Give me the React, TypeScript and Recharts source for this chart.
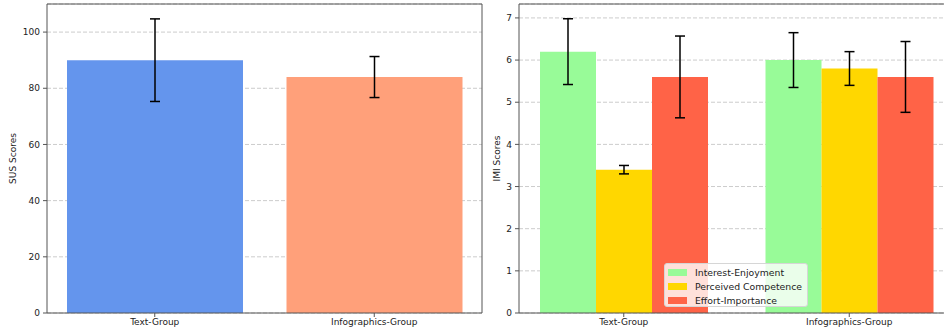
import React from "react";
import {
  Bar,
  BarChart,
  CartesianGrid,
  Cell,
  ErrorBar,
  Legend,
  XAxis,
  YAxis
} from "recharts";

const groups = ["Text-Group", "Infographics-Group"];

const susMeans = [90, 84];
const susErrors = [14.7, 7.3];
const susColors = ["#6495ED", "#FFA07A"];
const susTicks = [0, 20, 40, 60, 80, 100];

const imiSeries = ["Interest-Enjoyment", "Perceived Competence", "Effort-Importance"];
const imiColors = ["#98FB98", "#FFD700", "#FF6347"];
const interestMeans = [6.2, 6.0];
const interestErrors = [0.78, 0.65];
const competenceMeans = [3.4, 5.8];
const competenceErrors = [0.1, 0.4];
const effortMeans = [5.6, 5.6];
const effortErrors = [0.97, 0.84];
const imiTicks = [0, 1, 2, 3, 4, 5, 6, 7];

const font = "DejaVu Sans";
const spine = "#555";
const tickStyle = { fontSize: 9, fill: "#222", fontFamily: font };

const susData = groups.map((g, i) => ({ group: g, mean: susMeans[i], err: susErrors[i] }));

const imiData = groups.map((g, i) => ({
  group: g,
  ie: interestMeans[i],
  ieErr: interestErrors[i],
  pc: competenceMeans[i],
  pcErr: competenceErrors[i],
  ei: effortMeans[i],
  eiErr: effortErrors[i],
}));

const imiKeys = [
  ["ie", "ieErr"],
  ["pc", "pcErr"],
  ["ei", "eiErr"],
];

const yLabel = (text: string, x: number) => (props: any) => {
  const vb = props.viewBox;
  const cy = vb.y + vb.height / 2;
  return (
    <text
      x={x}
      y={cy}
      transform={`rotate(-90, ${x}, ${cy})`}
      textAnchor="middle"
      dominantBaseline="central"
      fontSize={9}
      fontFamily={font}
      fill="#222"
    >
      {text}
    </text>
  );
};

const ImiLegend = () => (
  <div
    style={{
      width: 144,
      height: 44,
      boxSizing: "border-box",
      background: "rgba(255,255,255,0.8)",
      border: "1px solid #d6d6d6",
      borderRadius: 3,
      padding: "1px 0 0 3px",
      fontFamily: font,
      fontSize: 9.3,
      color: "#222",
    }}
  >
    {imiSeries.map((s, i) => (
      <div key={s} style={{ display: "flex", alignItems: "center", height: 14 }}>
        <span style={{ width: 19, height: 7, background: imiColors[i], marginRight: 8 }} />
        <span>{s}</span>
      </div>
    ))}
  </div>
);

// top and right spines, matplotlib style box
const frameAxes = () => [
  <XAxis key="top" xAxisId="top" dataKey="group" orientation="top" height={1} tick={false} tickLine={false} stroke={spine} />,
  <YAxis key="right" yAxisId="right" orientation="right" width={1} tick={false} tickLine={false} stroke={spine} />,
];

export default function App() {
  return (
    <div
      style={{
        position: "absolute",
        left: 0,
        top: 0,
        width: 944,
        height: 333,
        overflow: "hidden",
        background: "#fff",
      }}
    >
      <div style={{ position: "absolute", left: 0, top: 0 }}>
        <BarChart width={490} height={333} data={susData} margin={{ top: 3, right: 7, bottom: 0, left: 0 }}>
          <CartesianGrid vertical={false} strokeDasharray="4 2" stroke="#cccccc" />
          <XAxis
            dataKey="group"
            height={20}
            padding={{ left: -2, right: -2 }}
            tick={tickStyle}
            tickSize={4}
            tickMargin={2}
            stroke={spine}
          />
          <YAxis
            width={47}
            domain={[0, 110]}
            ticks={susTicks}
            tick={tickStyle}
            tickSize={4}
            tickMargin={3}
            stroke={spine}
            label={{ content: yLabel("SUS Scores", 12.5) }}
          />
          {frameAxes()}
          <Bar dataKey="mean" barSize={176} isAnimationActive={false}>
            {susData.map((d, i) => (
              <Cell key={d.group} fill={susColors[i]} />
            ))}
            <ErrorBar dataKey="err" width={5} strokeWidth={1.5} stroke="#000" direction="y" />
          </Bar>
        </BarChart>
      </div>
      <div style={{ position: "absolute", left: 472, top: 0 }}>
        <BarChart
          width={490}
          height={333}
          data={imiData}
          barGap={0}
          margin={{ top: 3, right: 7, bottom: 0, left: 0 }}
        >
          <CartesianGrid vertical={false} strokeDasharray="4 2" stroke="#cccccc" />
          <XAxis
            dataKey="group"
            height={20}
            padding={{ left: -8, right: -8 }}
            tick={tickStyle}
            tickSize={4}
            tickMargin={2}
            stroke={spine}
          />
          <YAxis
            width={47}
            domain={[0, 7.33]}
            ticks={imiTicks}
            tick={tickStyle}
            tickSize={4}
            tickMargin={3}
            stroke={spine}
            label={{ content: yLabel("IMI Scores", 24.7) }}
          />
          {frameAxes()}
          {imiKeys.map(([k, e], i) => (
            <Bar key={k} dataKey={k} name={imiSeries[i]} fill={imiColors[i]} barSize={56} isAnimationActive={false}>
              <ErrorBar dataKey={e} width={5} strokeWidth={1.5} stroke="#000" direction="y" />
            </Bar>
          ))}
          <Legend
            layout="vertical"
            align="center"
            verticalAlign="middle"
            wrapperStyle={{ left: 192, top: 263, width: 144 }}
            content={() => <ImiLegend />}
          />
        </BarChart>
      </div>
    </div>
  );
}
